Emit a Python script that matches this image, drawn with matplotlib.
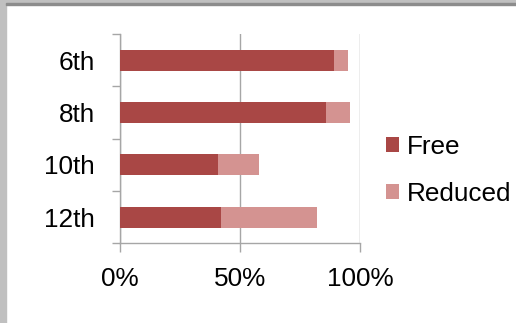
import matplotlib.pyplot as plt
from matplotlib.patches import Rectangle
from matplotlib.ticker import FixedLocator

# share of students per grade
grades = ['6th', '8th', '10th', '12th']
free = [89, 86, 41, 42]
reduced = [6, 10, 17, 40]

free_color = '#a94745'
reduced_color = '#d49391'
line_color = '#a6a6a6'
fs = 18.8

plt.rcParams['font.family'] = ['Liberation Sans', 'DejaVu Sans']

fig = plt.figure(figsize=(5.16, 3.23), dpi=100)
ax = fig.add_axes([0.2326, 0.2467, 0.4651, 0.648])

pos = list(range(len(grades)))
ax.barh(pos, free, height=0.4, color=free_color, label='Free', zorder=3)
ax.barh(pos, reduced, left=free, height=0.4, color=reduced_color, label='Reduced', zorder=3)

ax.set_xlim(0, 100)
ax.set_ylim(3.5, -0.5)
ax.set_xticks([0, 50, 100])
ax.set_xticklabels(['0%', '50%', '100%'], fontsize=fs)
ax.set_yticks(pos)
ax.set_yticklabels(grades, fontsize=fs)
ax.yaxis.set_minor_locator(FixedLocator([-0.5, 0.5, 1.5, 2.5, 3.5]))
ax.tick_params(axis='y', which='major', length=0, pad=18)
ax.tick_params(axis='y', which='minor', length=6, width=1, color=line_color)
ax.tick_params(axis='x', length=6.5, width=1, color=line_color, pad=10.5)

ax.xaxis.grid(True, color=line_color, lw=1, zorder=0)
for side in ['top', 'right']:
    ax.spines[side].set_visible(False)
for side in ['left', 'bottom']:
    ax.spines[side].set_color(line_color)
    ax.spines[side].set_linewidth(1)

fig.legend(loc='upper left', bbox_to_anchor=(0.748, 0.582), frameon=False,
           fontsize=fs, handlelength=0.5, handleheight=0.5, handletextpad=0.3,
           labelspacing=0.88, borderpad=0, borderaxespad=0)

# window frame along the top and left edges
fig.patches.append(Rectangle((0, 0), 6 / 516, 1, transform=fig.transFigure,
                             color='#c0c0c0', zorder=0))
fig.patches.append(Rectangle((0, 1 - 4 / 323), 1, 4 / 323, transform=fig.transFigure,
                             color='#c0c0c0', zorder=0))
fig.patches.append(Rectangle((6 / 516, 1 - 5 / 323), 1, 1.5 / 323, transform=fig.transFigure,
                             color='#8c8c8c', zorder=0))

fig.savefig('out.png', dpi=100)
